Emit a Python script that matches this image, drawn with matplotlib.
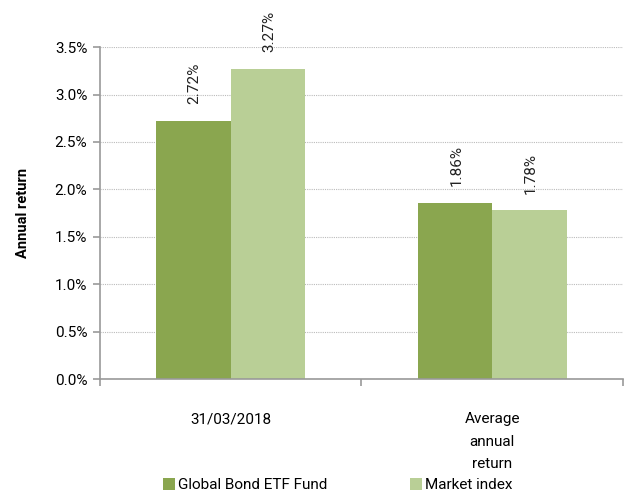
import numpy as np
import matplotlib.pyplot as plt

plt.rcParams.update(
    {
        "font.family": ["Roboto", "DejaVu Sans"],
        "font.size": 11,
    }
)

categories = ["31/03/2018", "Average\nannual\nreturn"]
fund = [2.72, 1.86]
market = [3.27, 1.78]
series_names = ["Global Bond ETF Fund", "Market index"]
colors = ["#8aa64f", "#b9cf96"]

fig = plt.figure(figsize=(6.28, 4.91), dpi=100)
ax = fig.add_axes([0.159, 0.228, 0.833, 0.676])

x = np.arange(len(categories))
w = 0.285
bars1 = ax.bar(x - w / 2, fund, w, color=colors[0], label=series_names[0], zorder=2)
bars2 = ax.bar(x + w / 2, market, w, color=colors[1], label=series_names[1], zorder=2)

# data labels, rotated
for bars, vals in [(bars1, fund), (bars2, market)]:
    for b, v in zip(bars, vals):
        ax.annotate(
            f"{v:.2f}%",
            (b.get_x() + b.get_width() / 2, v),
            xytext=(1, 12),
            textcoords="offset points",
            rotation=90,
            ha="center",
            va="bottom",
            fontsize=11,
            color="#222222",
        )

ax.set_ylim(0, 3.5)
ax.set_xlim(-0.5, 1.5)
ax.set_yticks(np.arange(0, 3.51, 0.5))
ax.set_yticklabels([f"{t:.1f}%" for t in np.arange(0, 3.51, 0.5)], fontsize=11)
ax.set_xticks(x)
ax.set_xticklabels(categories, fontsize=11, linespacing=1.75)
ax.set_xticks([-0.5, 0.5, 1.5], minor=True)
ax.tick_params(axis="x", which="major", length=0, pad=24)
ax.tick_params(axis="x", which="minor", length=5, color="#999999", width=1.2)
ax.tick_params(axis="y", length=5, color="#999999", width=1.2, pad=4)

ax.grid(axis="y", color="#bbbbbb", linestyle=(0, (1, 1)), linewidth=0.8, zorder=0)
for s in ["top", "right"]:
    ax.spines[s].set_visible(False)
for s in ["left", "bottom"]:
    ax.spines[s].set_color("#999999")
    ax.spines[s].set_linewidth(1.2)

ax.set_ylabel("Annual return", fontweight="bold", fontsize=10.5, labelpad=18)

fig.legend(
    loc="lower left",
    bbox_to_anchor=(0.237, -0.03),
    ncol=2,
    frameon=False,
    fontsize=11,
    handlelength=0.8,
    handleheight=0.8,
    handletextpad=0.2,
    columnspacing=5.4,
)

plt.savefig("out.png", dpi=100)
